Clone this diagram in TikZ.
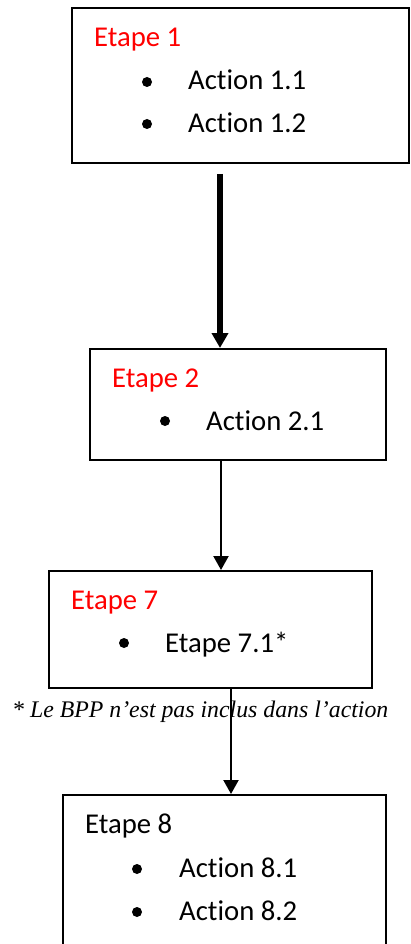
\documentclass[tikz,border=0pt]{standalone}
\usepackage{fontspec}
\setmainfont{Carlito}[Ligatures=NoCommon]
\newfontfamily\notefont{Liberation Serif}
\usetikzlibrary{arrows.meta}
\tikzset{
  boxstyle/.style={draw=black, line width=2pt, inner sep=0pt, anchor=center},
  title/.style={anchor=base west, inner sep=0pt, font=\fontsize{28.7}{34}\selectfont},
  redtitle/.style={title, text=red},
  item/.style={anchor=base west, inner sep=0pt, font=\fontsize{28.7}{34}\selectfont},
  bulletdot/.style={circle, fill=black, inner sep=0pt, minimum size=10pt},
  bigarrow/.style={line width=5.5pt, -{Triangle[width=16pt,length=15pt]}},
  arrowstyle/.style={line width=2.2pt, -{Triangle[width=15pt,length=14pt]}},
  notestyle/.style={anchor=base west, inner sep=0pt, font=\notefont\itshape\fontsize{23.8}{28}\selectfont}
}
\begin{document}
\begin{tikzpicture}[x=1pt, y=-1pt]
\useasboundingbox (0,0) rectangle (411,944);
\clip (0,0) rectangle (411,944);
% boxes
\node[boxstyle, minimum width=337pt, minimum height=155pt] (b1) at (240.5,85.5) {};
\node[boxstyle, minimum width=296pt, minimum height=111pt] (b2) at (238,404.5) {};
\node[boxstyle, minimum width=323pt, minimum height=117pt] (b7) at (210.5,629.5) {};
\node[boxstyle, minimum width=323pt, minimum height=190pt] (b8) at (224.5,890) {};
% box 1
\node[redtitle] (t1) at (94,47) {Etape 1};
\node[bulletdot] (d11) at (147,82) {};
\node[item] (a11) at (188,90) {Action 1.1};
\node[bulletdot] (d12) at (147,124) {};
\node[item] (a12) at (188,133) {Action 1.2};
% box 2
\node[redtitle] (t2) at (112,387) {Etape 2};
\node[bulletdot] (d21) at (165,421) {};
\node[item] (a21) at (206,430) {Action 2.1};
% box 7
\node[redtitle] (t7) at (71,609) {Etape 7};
\node[bulletdot] (d71) at (124,643) {};
\node[item] (a71) at (165,652) {Etape 7.1*};
% footnote
\node[notestyle] (note) at (12,717) {* Le BPP n’est pas inclus dans l’action};
% box 8
\node[title] (t8) at (85,833) {Etape 8};
\node[bulletdot] (d81) at (137,869) {};
\node[item] (a81) at (179,877) {Action 8.1};
\node[bulletdot] (d82) at (137,912) {};
\node[item] (a82) at (179,920) {Action 8.2};
% arrows
\coordinate (s1) at (220,174);
\draw[bigarrow] (s1) -- (s1 |- b2.north);
\coordinate (s2) at (221,460);
\draw[arrowstyle] (s2) -- (s2 |- b7.north);
\coordinate (s3) at (231,688);
\draw[arrowstyle] (s3) -- (s3 |- b8.north);
\end{tikzpicture}
\end{document}
